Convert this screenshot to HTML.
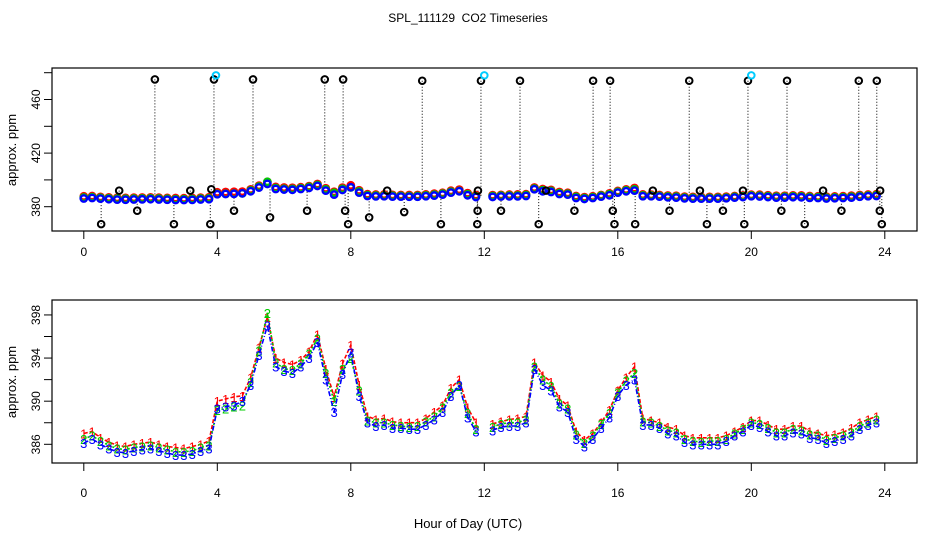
<!DOCTYPE html>
<html><head><meta charset="utf-8"><style>
body{margin:0;background:#fff;}
svg{display:block;font-family:"Liberation Sans",Arial,sans-serif;}
</style></head><body>
<svg id="chart" width="936" height="540" viewBox="0 0 936 540" xmlns="http://www.w3.org/2000/svg">
<rect width="936" height="540" fill="#fff"/>
<text x="468" y="22" text-anchor="middle" font-size="12">SPL_111129&#160; CO2 Timeseries</text>
<text x="468" y="528" text-anchor="middle" font-size="13">Hour of Day (UTC)</text>
<text transform="translate(16,150) rotate(-90)" text-anchor="middle" font-size="13">approx. ppm</text>
<text transform="translate(16,382) rotate(-90)" text-anchor="middle" font-size="13">approx. ppm</text>
<g id="topPanel"></g>
<g id="botPanel"></g>
</svg>
<script>
const hourStart = 0, hourStep = 0.25;
const blue = [386.1,386.5,386.0,385.6,385.3,385.2,385.4,385.5,385.6,385.4,385.2,385.0,385.0,385.1,385.4,385.6,
389.3,389.5,389.6,390.0,391.5,394.3,397.0,393.2,392.8,392.6,393.2,394.0,395.5,392.0,389.0,392.5,
394.5,390.5,388.0,387.7,387.8,387.5,387.5,387.4,387.4,387.8,388.3,389.0,390.5,391.5,388.5,387.2,
null,387.3,387.6,387.7,387.7,388.0,393.0,391.5,391.0,389.5,389.0,386.5,385.8,386.5,387.5,388.5,
390.5,391.5,392.0,387.8,387.8,387.5,387.0,386.8,386.2,386.0,386.0,386.0,386.0,386.3,386.8,387.2,
387.8,387.6,387.2,386.8,386.8,387.1,387.0,386.6,386.5,386.1,386.3,386.5,386.8,387.4,387.8,388.0];
const red = [387.0,387.2,386.6,386.2,385.9,385.8,386.0,386.1,386.2,386.0,385.8,385.7,385.6,385.8,386.0,386.3,
390.0,390.2,390.4,390.5,392.2,395.0,397.8,394.0,393.6,393.4,393.8,394.6,396.2,393.0,390.4,393.5,
395.2,391.5,388.6,388.3,388.4,388.1,388.0,388.0,388.0,388.4,389.0,389.6,391.2,392.0,389.4,388.0,
null,387.9,388.1,388.3,388.4,388.6,393.6,392.4,391.8,390.2,389.6,387.2,386.4,387.0,388.0,389.2,
391.0,392.2,393.2,388.4,388.2,388.0,387.6,387.4,386.8,386.6,386.6,386.6,386.6,386.8,387.2,387.6,
388.2,388.2,387.8,387.4,387.4,387.7,387.7,387.2,387.0,386.8,386.9,387.1,387.5,388.0,388.3,388.6];
const green = [386.5,386.8,386.3,385.9,385.6,385.5,385.7,385.8,385.9,385.7,385.5,385.3,385.3,385.4,385.7,385.9,
389.2,389.3,389.5,389.6,391.8,394.7,398.2,393.6,393.0,392.9,393.5,394.4,395.8,392.6,390.0,393.0,
394.0,391.0,388.2,388.0,388.0,387.8,387.7,387.6,387.7,388.1,388.6,389.4,390.8,391.4,388.9,387.4,
null,387.6,387.9,388.0,388.0,388.3,393.2,392.0,391.4,389.8,389.3,386.9,386.1,386.8,387.9,388.9,
390.8,391.9,392.6,388.1,388.0,387.7,387.3,387.1,386.5,386.3,386.2,386.3,386.3,386.5,387.0,387.4,
388.0,387.9,387.5,387.1,387.1,387.4,387.3,386.9,386.8,386.4,386.6,386.8,387.1,387.7,388.0,388.3];
const outHours = [2.13,3.9,5.07,7.22,7.77,10.14,11.9,13.07,15.26,15.77,18.14,19.9,21.07,23.22,23.76,
0.52,2.7,3.79,7.92,10.7,11.79,13.63,15.9,16.52,18.67,19.79,21.6,23.91,
1.6,4.5,5.58,6.69,7.83,8.55,9.6,11.8,12.5,14.7,15.85,17.55,19.15,20.9,22.7,23.85,
1.06,3.19,3.82,9.09,11.81,13.85,17.05,18.46,19.75,22.15,23.86];
const outValues = [475,475,475,475,475,474,474,474,474,474,474,474,474,474,474,
367,367,367,367,367,367,367,367,367,367,367,367,367,
377,377,372,377,377,372,376,377,377,377,377,377,377,377,377,377,
392,392,393,392,392,392,392,392,392,392,392];
const cyanHours = [3.96,12.0,20.0];
const cyanValues = [478,478,478];
const xTicks = [0,4,8,12,16,20,24];
const topTicks = [380,400,420,440,460,480];
const topLabels = [380,420,460];
const botTicks = [386,388,390,392,394,396,398];
const botLabels = [386,390,394,398];

const NS = "http://www.w3.org/2000/svg";
const X0 = 52, X1 = 917;
const xs = h => 83.8 + h * 33.375;
const yTop = v => 206.7 - (v - 380) * 1.34;
const yBot = v => 444.3 - (v - 386) * 10.78;
const hourAt = i => hourStart + i * hourStep;
function mk(parent, tag, attrs){const e=document.createElementNS(NS,tag);for(const k in attrs)e.setAttribute(k,attrs[k]);parent.appendChild(e);return e;}

function axes(g, yTopPx, yBotPx, yFn, ticks, labels, xLabY, name){
  const box = mk(g,'rect',{x:X0,y:yTopPx,width:X1-X0,height:yBotPx-yTopPx,fill:'none',stroke:'#000','stroke-width':1.2});
  
  
  xTicks.forEach(t=>{
    const l = mk(g,'line',{x1:xs(t),x2:xs(t),y1:yBotPx,y2:yBotPx+8,stroke:'#000'});
    
    
    const tx = mk(g,'text',{x:xs(t),y:xLabY,'text-anchor':'middle','font-size':12});
    tx.textContent = t;
    
    
  });
  ticks.forEach(t=>{
    const l = mk(g,'line',{x1:X0-8,x2:X0,y1:yFn(t),y2:yFn(t),stroke:'#000'});
    
    
  });
  labels.forEach(t=>{
    const tx = mk(g,'text',{transform:`translate(40,${yFn(t)}) rotate(-90)`,'text-anchor':'middle','font-size':12});
    tx.textContent = t;
    
    
  });
}

// Top panel
const topG = document.getElementById('topPanel');
axes(topG, 68, 231, yTop, topTicks, topLabels, 256, 'top');
function seriesAt(h){const i=Math.round((h-hourStart)/hourStep);const v=blue[Math.max(0,Math.min(blue.length-1,i))];return v==null?387:v;}
outHours.forEach((h,i)=>{
  const base = seriesAt(h);
  const l = mk(topG,'line',{x1:xs(h),x2:xs(h),y1:yTop(outValues[i]),y2:yTop(base),stroke:'#000','stroke-dasharray':'1,2'});
  
  
});
[[red,'#f00'],[green,'#0c0'],[blue,'#00f']].forEach(([arr,col],si)=>{
  arr.forEach((v,i)=>{
    if(v==null) return;
    const c = mk(topG,'circle',{cx:xs(hourAt(i)),cy:yTop(v)-(2-si)*0.5,r:3.2,fill:'none',stroke:col,'stroke-width':2.4});
    
    
  });
});
outHours.forEach((h,i)=>{
  const c = mk(topG,'circle',{cx:xs(h),cy:yTop(outValues[i]),r:3.3,fill:'none',stroke:'#000','stroke-width':2});
  
  
});
cyanHours.forEach((h,i)=>{
  const c = mk(topG,'circle',{cx:xs(h),cy:yTop(cyanValues[i]),r:3.3,fill:'none',stroke:'#0cf','stroke-width':2});
  
  
});

// Bottom panel
const botG = document.getElementById('botPanel');
axes(botG, 300, 463, yBot, botTicks, botLabels, 497, 'bottom');
[[red,'#f00','1','4,2'],[green,'#0c0','2','2,2'],[blue,'#00f','3','5,2,1,2']].forEach(([arr,col,ch,dash])=>{
  let d='';
  arr.forEach((v,i)=>{
    if(v==null){return;}
    const prev = i>0 ? arr[i-1] : null;
    d += (prev==null?'M':'L') + xs(hourAt(i)).toFixed(1)+','+yBot(v).toFixed(1)+' ';
  });
  const p = mk(botG,'path',{d:d,fill:'none',stroke:col,'stroke-width':1.6,'stroke-dasharray':dash});
  
  
  arr.forEach((v,i)=>{
    if(v==null) return;
    const t = mk(botG,'text',{x:xs(hourAt(i)),y:yBot(v)+5,'text-anchor':'middle','font-size':13,fill:col});
    t.textContent = ch;
    
    
  });
});
</script>
</body></html>
